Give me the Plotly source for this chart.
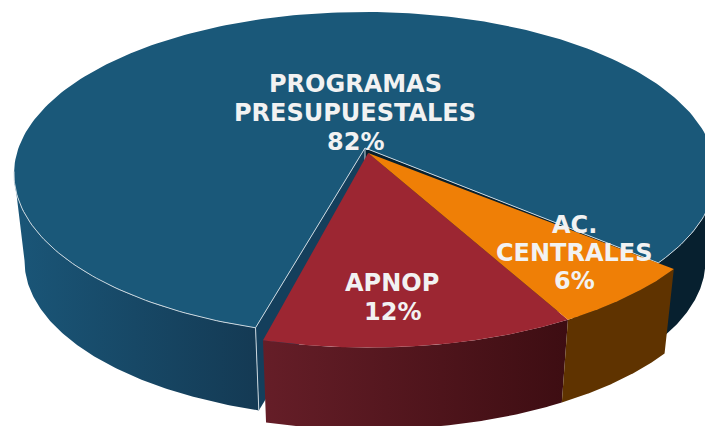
import numpy as np
import plotly.graph_objects as go

# ---- data ----
categories = ["PROGRAMAS\nPRESUPUESTALES", "APNOP", "AC.\nCENTRALES"]
values = [82, 12, 6]

# ---- style / view ----
top_colors = ["#1a5879", "#9c2632", "#ef7f06"]
edge_color = "#c9d6de"
text_color = "#f2f2f2"
label_xy = [(355, 84), (392, 283), (574, 225)]
label_lead = [29, 29, 28]
start_t = 195.5          # where the first slice starts, clockwise from the back
group_t = 194.5          # where the two pulled-out slices start, counter-clockwise
slice_offset = [(0, 0), (0.009, 0.032), (0.009, 0.032)]
slice_radius = [1.0, 1.02, 1.02]
# horizontal gradient of each outer wall, in screen x
side_grad = [
    (14, 665, [(0.0, "#1a5678"), (0.37, "#143a54"), (1.0, "#07202f")]),
    (258, 570, [(0.0, "#661e28"), (1.0, "#3d0d12")]),
    (565, 672, [(0.0, "#5f3300"), (1.0, "#5f3300")]),
]
hidden_back = (261, 459)  # part of the outer wall that the top always covers

X0, Y0, BX, AY, K = 365.0, 148.0, 346.5, 157.8, 0.16
DEPTH, SHRINK = 88.0, 0.97


def project(u, v, low=False):
    q = 1 - K * v
    s = SHRINK if low else 1.0
    return X0 + s * BX * u / q, Y0 + (DEPTH if low else 0) + s * AY * v / q


def rim(t, off, r):
    a = np.radians(t)
    return off[0] + r * np.sin(a), off[1] - r * np.cos(a)


def poly(fig, pts, color=None, grad=None):
    kw = dict(fillcolor=color) if color else dict(
        fillgradient=dict(type="horizontal", start=grad[0], stop=grad[1], colorscale=grad[2]))
    fig.add_trace(go.Scatter(
        x=[p[0] for p in pts], y=[p[1] for p in pts], mode="lines", fill="toself",
        line=dict(width=0), hoverinfo="skip", showlegend=False, **kw))


def stroke(fig, pts, width=1.0):
    fig.add_trace(go.Scatter(
        x=[p[0] for p in pts], y=[p[1] for p in pts], mode="lines",
        line=dict(color=edge_color, width=width), hoverinfo="skip", showlegend=False))


fig = go.Figure()
total = sum(values)
spans = [v / total * 360 for v in values]

# angular ranges: first slice runs clockwise, the others fall back from the group start
ranges = [
    (start_t, start_t + spans[0]),
    (group_t - spans[1], group_t),
    (group_t - spans[1] - spans[2], group_t - spans[1]),
]


def side_piece(i, t0, t1):
    ts = np.linspace(t0, t1, 120)
    top = [project(*rim(t, slice_offset[i], slice_radius[i])) for t in ts]
    low = [project(*rim(t, slice_offset[i], slice_radius[i]), True) for t in ts[::-1]]
    poly(fig, top + low + top[:1], grad=side_grad[i])


def draw_top(i):
    t0, t1 = ranges[i]
    off = slice_offset[i]
    ts = np.linspace(t0, t1, 240)
    pts = [project(*off)] + [project(*rim(t, off, slice_radius[i])) for t in ts] + [project(*off)]
    poly(fig, pts, color=top_colors[i])


# first slice: inner walls at both cuts, then outer wall and top
t0, t1 = ranges[0]
c0 = slice_offset[0]
for t, col in ((t0, "#143f5c"), (t1, "#07202f")):
    u, v = rim(t, c0, slice_radius[0])
    poly(fig, [project(*c0), project(u, v), project(u, v, True), project(*c0, True), project(*c0)], color=col)
side_piece(0, t0, hidden_back[0])
side_piece(0, hidden_back[1], t1)
draw_top(0)

# thin light edges of the first slice
ts = np.linspace(t0, t1, 300)
c = project(*c0)
for t in (t0, t1):
    stroke(fig, [c, project(*rim(t, c0, 1.0))])
stroke(fig, [c, (c[0], c[1] + 30)])
stroke(fig, [project(*rim(t, c0, 1.0)) for t in ts if t < 262])
stroke(fig, [project(*rim(t, c0, 1.0)) for t in ts if t > 455])
stroke(fig, [project(*rim(t0, c0, 1.0)), project(*rim(t0, c0, 1.0), True)])

# the other two slices
for i in (1, 2):
    side_piece(i, *ranges[i])
    draw_top(i)

# labels, one annotation per line
for i, name in enumerate(categories):
    lines = name.split("\n") + [f"{values[i]}%"]
    x, y = label_xy[i]
    for k, line in enumerate(lines):
        fig.add_annotation(x=x, y=y + k * label_lead[i], text=f"<b>{line}</b>", showarrow=False,
                           xanchor="center", yanchor="middle",
                           font=dict(family="DejaVu Sans", size=24, color=text_color))

fig.update_layout(
    width=705, height=426, margin=dict(l=0, r=0, t=0, b=0),
    paper_bgcolor="white", plot_bgcolor="white", showlegend=False,
    xaxis=dict(range=[0, 705], visible=False, fixedrange=True),
    yaxis=dict(range=[426, 0], visible=False, fixedrange=True),
)
fig.write_html("out.html", config={"displayModeBar": False},
               post_script="document.body.style.margin='0';")
